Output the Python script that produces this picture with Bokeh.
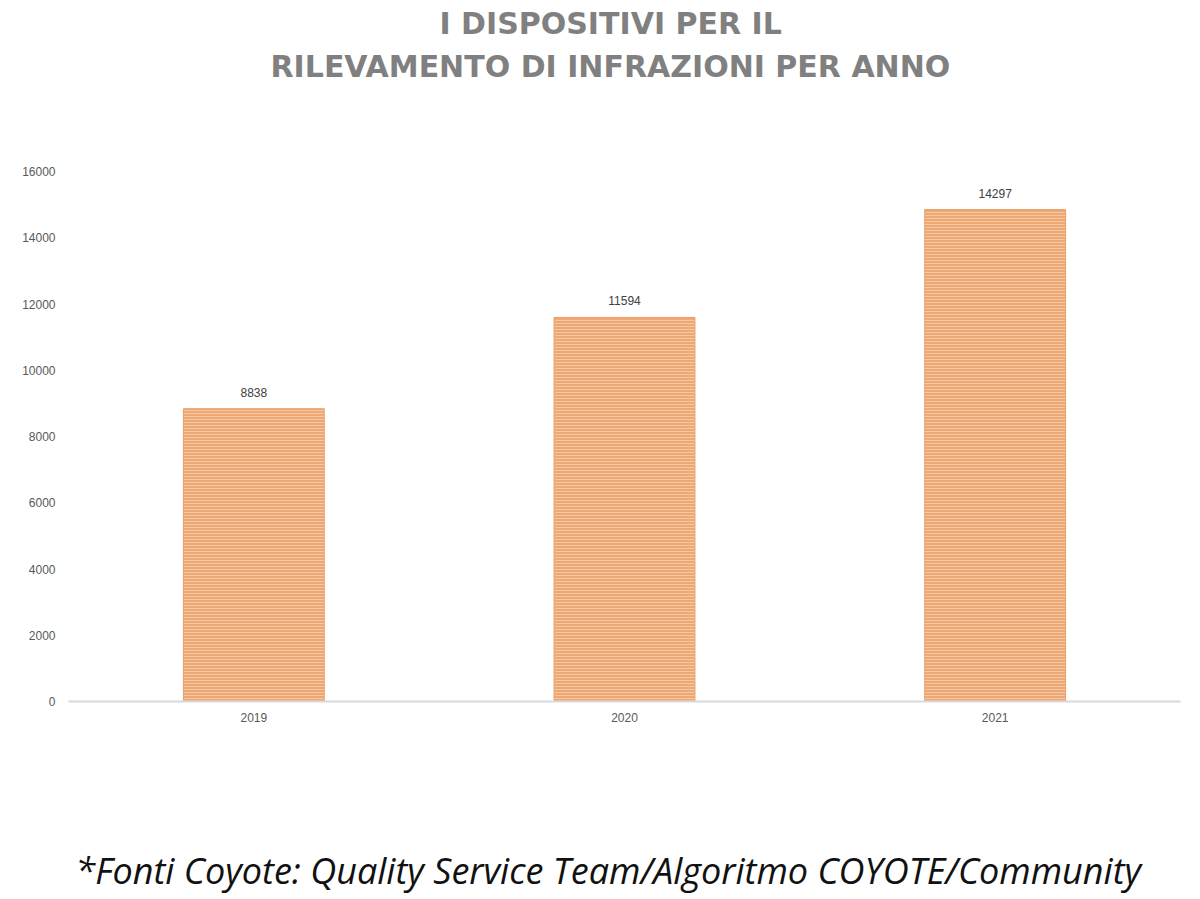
from bokeh.plotting import figure
from bokeh.models import ColumnDataSource, Range1d, Title, FixedTicker, LabelSet
from bokeh.core.properties import value
from bokeh.embed import file_html
from bokeh.resources import INLINE

years = ["2019", "2020", "2021"]
bar_values = [8838, 11594, 14850]
value_labels = ["8838", "11594", "14297"]
y_ticks = [0, 2000, 4000, 6000, 8000, 10000, 12000, 14000, 16000]

source = ColumnDataSource(dict(x=years, top=bar_values, label=value_labels))

p = figure(x_range=years, y_range=Range1d(0, 16000), width=1192, height=895,
           output_backend="svg", toolbar_location=None,
           min_border_left=68, min_border_right=12)

p.vbar(x="x", top="top", width=0.38, source=source,
       fill_color="#EEA874", line_color="#E99E66", line_width=1,
       hatch_pattern="horizontal_line", hatch_color="#F6C8A4",
       hatch_scale=3, hatch_weight=1)

labels = LabelSet(x="x", y="top", text="label", source=source,
                  text_align="center", text_baseline="bottom", y_offset=12,
                  text_font=value("Liberation Sans"), text_font_size="12px",
                  text_color="#404040")
p.add_layout(labels)

p.xgrid.grid_line_color = None
p.ygrid.grid_line_color = None
p.outline_line_color = None

p.yaxis.ticker = FixedTicker(ticks=y_ticks)
p.yaxis.axis_line_color = None
p.yaxis.major_tick_line_color = None
p.yaxis.minor_tick_line_color = None
p.yaxis.major_tick_out = 0
p.yaxis.minor_tick_out = 0
p.yaxis.major_label_standoff = 13
p.yaxis.major_label_text_font = "Liberation Sans"
p.yaxis.major_label_text_font_size = "12px"
p.yaxis.major_label_text_color = "#595959"

p.xaxis.axis_line_color = "#D9D9D9"
p.xaxis.axis_line_width = 2
p.xaxis.major_tick_line_color = None
p.xaxis.minor_tick_line_color = None
p.xaxis.major_tick_out = 0
p.xaxis.minor_tick_out = 0
p.xaxis.major_label_standoff = 11
p.xaxis.major_label_text_font = "Liberation Sans"
p.xaxis.major_label_text_font_size = "12px"
p.xaxis.major_label_text_color = "#595959"

# spacer between title and frame
sp_top = Title(text=" ", text_font="DejaVu Sans", text_font_size="10px", standoff=72)
t2 = Title(text="RILEVAMENTO DI INFRAZIONI PER ANNO", align="left", offset=202,
           text_font="DejaVu Sans", text_font_style="bold", text_font_size="30px",
           text_color="#808080", standoff=6)
t1 = Title(text="I DISPOSITIVI PER IL", align="left", offset=371,
           text_font="DejaVu Sans", text_font_style="bold", text_font_size="30px",
           text_color="#808080", standoff=6)
p.add_layout(sp_top, "above")
p.add_layout(t2, "above")
p.add_layout(t1, "above")

sp_bot = Title(text=" ", text_font="DejaVu Sans", text_font_size="10px", standoff=105)
foot = Title(text="*Fonti Coyote: Quality Service Team/Algoritmo COYOTE/Community",
             align="left", offset=7, text_font="Open Sans", text_font_style="italic",
             text_font_size="36px", text_color="#111111", standoff=2)
p.add_layout(sp_bot, "below")
p.add_layout(foot, "below")

open("out.html", "w").write(file_html(p, INLINE))
